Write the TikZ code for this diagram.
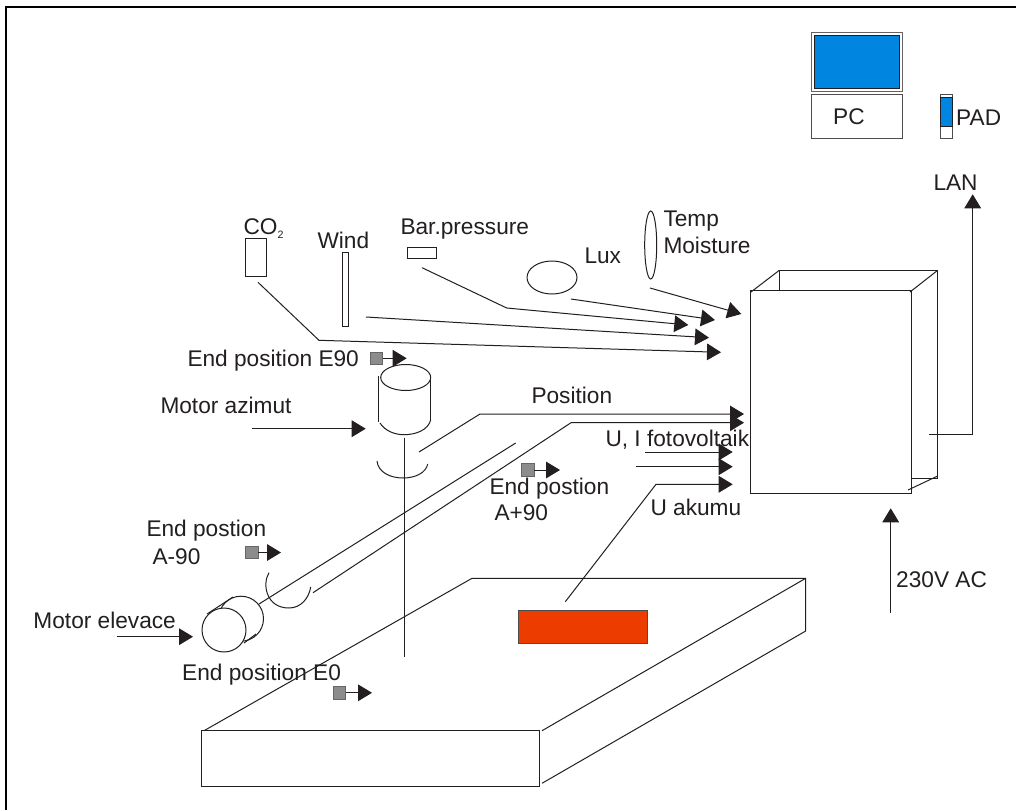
\documentclass[tikz,border=0pt]{standalone}
\usepackage{fontspec}
\setmainfont{Liberation Sans}
\usetikzlibrary{arrows.meta}
\definecolor{ink}{HTML}{231F20}
\definecolor{screen}{HTML}{0085E0}
\definecolor{panel}{HTML}{EC3C00}
\definecolor{switch}{HTML}{8C8C8C}

\begin{document}
\begin{tikzpicture}[
  x=0.75pt,y=-0.75pt,
  line width=0.75pt,
  wire/.style={draw=ink,line width=0.75pt},
  arr/.style={wire,-{Triangle[length=10.5pt,width=12.5pt]}},
  lbl/.style={font=\fontsize{17}{20}\selectfont,text=ink,anchor=base west,inner sep=0pt,align=left},
  endsw/.style={draw=black!60,fill=switch,line width=0.6pt,minimum size=9.4pt,inner sep=0pt},
  scr/.style={draw=ink,fill=screen,inner sep=0pt},
  frame/.style={draw=black,line width=1.8pt},
]
\useasboundingbox (0,0) rectangle (1016,810);
\fill[white] (0,0) rectangle (1016,810);
\draw[frame] (6,810) -- (6,7) -- (1016,7);

% PC and PAD
\node[draw=ink!70,inner sep=0pt,minimum width=68.5pt,minimum height=44pt] (monitor) at (857,62) {};
\node[scr,minimum width=64pt,minimum height=39.2pt] (monitorscr) at (857,62.1) {};
\node[draw=ink!80,inner sep=0pt,minimum width=68.5pt,minimum height=33pt] (pcbox) at (857,116.3) {};
\node[lbl] (pclbl) at (832.7,124.3) {PC};
\node[draw=ink!80,inner sep=0pt,minimum width=9.3pt,minimum height=33pt] (padbox) at (946.5,116.3) {};
\node[scr,minimum width=9.3pt,minimum height=22pt] (padscr) at (946.5,112) {};
\node[lbl] (padlbl) at (955.7,125.3) {PAD};

% sensors
\draw[wire] (245.7,238) rectangle (266.7,276);
\node[lbl] (co2lbl) at (243,234) {CO\raisebox{-3.6pt}{\fontsize{8}{8}\selectfont 2}};
\draw[wire] (342.7,252.7) rectangle (348,326);
\node[lbl] (windlbl) at (317,248) {Wind};
\draw[wire] (407,247) rectangle (436.7,258.7);
\node[lbl] (barlbl) at (400,234) {Bar.pressure};
\draw[wire] (552,277.5) ellipse [x radius=25,y radius=16.5];
\node[lbl] (luxlbl) at (584,263) {Lux};
\draw[wire] (650.7,245) ellipse [x radius=6,y radius=34];
\node[lbl] (templbl) at (663,226.7) {Temp};
\node[lbl] (moistlbl) at (663,253) {Moisture};

\coordinate (co2out) at (258,282.3);
\coordinate (co2bend) at (319,340.3);
\coordinate (co2in) at (721,352.3);
\coordinate (windout) at (366,317);
\coordinate (windin) at (709,337.7);
\coordinate (barout) at (422,267.7);
\coordinate (barbend) at (506.7,308);
\coordinate (barin) at (688.3,325);
\coordinate (luxout) at (571,299);
\coordinate (luxin) at (715,320);
\coordinate (tempout) at (650,288);
\coordinate (tempin) at (741.3,314);
\draw[arr] (co2out) -- (co2bend) -- (co2in);
\draw[arr] (windout) -- (windin);
\draw[arr] (barout) -- (barbend) -- (barin);
\draw[arr] (luxout) -- (luxin);
\draw[arr] (tempout) -- (tempin);

% azimuth motor
\draw[wire] (405.7,377.5) ellipse [x radius=25,y radius=13];
\draw[wire] (378,376) -- (378,422);
\draw[wire] (430.7,377) -- (430.7,421);
\draw[wire] (380,423) .. controls (385,431) and (395,434.7) .. (404,434.7) .. controls (416,434.7) and (428,430) .. (430.7,420);
\draw[wire] (377,461) .. controls (378,472) and (390,478) .. (403,478) .. controls (415,478) and (426,473) .. (427.7,464);
\draw[wire] (404,437.7) -- (404,656.7);
\node[lbl] (azilbl) at (160,413) {Motor azimut};
\coordinate (azifrom) at (252,428.7);
\coordinate (aziin) at (365.7,428.7);
\draw[arr] (azifrom) -- (aziin);

% end switches
\node[lbl] (e90lbl) at (187,366) {End position  E90};
\node[endsw] (swe90) at (376.5,358.3) {};
\coordinate (swe90tip) at (406.7,358.3);
\draw[arr] (swe90) -- (swe90tip);
\node[lbl] (ap90lbl) at (489,494) {End postion};
\node[lbl] (ap90lblb) at (494,520.7) {A+90};
\node[endsw] (swap90) at (527.8,470) {};
\coordinate (swap90tip) at (560,470);
\draw[arr] (swap90) -- (swap90tip);
\node[lbl] (am90lbl) at (146,536.7) {End postion};
\node[lbl] (am90lblb) at (152,564) {A-90};
\node[endsw] (swam90) at (251.8,552.5) {};
\coordinate (swam90tip) at (281,552.5);
\draw[arr] (swam90) -- (swam90tip);
\node[lbl] (e0lbl) at (181.7,680) {End position E0};
\node[endsw] (swe0) at (339.5,692.8) {};
\coordinate (swe0tip) at (372,692.8);
\draw[arr] (swe0) -- (swe0tip);

% elevation motor
\draw[wire] (241,618.7) circle (22.5);
\draw[wire] (207,614) -- (233,597);
\draw[wire] (244,643) -- (256,634);
\draw[wire,fill=white] (224,630) circle (22);
\draw[wire] (269,572.7) .. controls (262,584) and (266,608) .. (289,608) .. controls (301,608) and (309,598) .. (310.7,587);
\draw[wire] (259,604) -- (515.7,443);
\node[lbl] (elelbl) at (33,628) {Motor elevace};
\coordinate (elefrom) at (116.7,636.7);
\coordinate (elein) at (193,636.7);
\draw[arr] (elefrom) -- (elein);

% signals to the box
\node[lbl] (poslbl) at (531,403) {Position};
\coordinate (posout) at (419,452);
\coordinate (posbend) at (480,414);
\coordinate (posin) at (744,414);
\draw[arr] (posout) -- (posbend) -- (posin);
\coordinate (shaftout) at (313,592.7);
\coordinate (shaftbend) at (571,422.7);
\coordinate (shaftin) at (744,422.7);
\draw[arr] (shaftout) -- (shaftbend) -- (shaftin);
\node[lbl] (pvlbl) at (605,446) {U, I fotovoltaik};
\coordinate (pvfrom) at (645,452);
\coordinate (pvin) at (732.7,452);
\draw[arr] (pvfrom) -- (pvin);
\coordinate (pvfromb) at (636,466.7);
\coordinate (pvinb) at (732.7,466.7);
\draw[arr] (pvfromb) -- (pvinb);
\node[lbl] (akulbl) at (650,515) {U akumu};
\coordinate (akuout) at (565.3,601.7);
\coordinate (akubend) at (656,484.3);
\coordinate (akuin) at (732.7,484.3);
\draw[arr] (akuout) -- (akubend) -- (akuin);

% control box
\draw[wire] (750,290.7) rectangle (911.7,493.3);
\draw[wire] (779.3,290.7) -- (779.3,270.3) -- (937.7,270.3) -- (937.7,478.3) -- (911.7,478.3);
\draw[wire] (751,292) -- (779.3,270.3);
\draw[wire] (910,292) -- (937.7,270.3);
\draw[wire] (908,490) -- (937.7,476);
\coordinate (lanout) at (929,434.3);
\coordinate (lanbend) at (972.7,434.3);
\coordinate (lanin) at (972.7,194.3);
\draw[arr] (lanout) -- (lanbend) -- (lanin);
\node[lbl] (lanlbl) at (933,190) {LAN};
\coordinate (acfrom) at (890.7,613);
\coordinate (acin) at (890.7,508.3);
\draw[arr] (acfrom) -- (acin);
\node[lbl] (aclbl) at (895.7,587.7) {230V AC};

% base plate
\draw[wire] (201.7,730.7) rectangle (539.3,786.7);
\draw[wire] (204,730.7) -- (472,578.3) -- (805.7,578.3) -- (805.7,631) -- (542,783.3);
\draw[wire] (805.7,578.3) -- (542,730.7);
\draw[draw=ink!80,fill=panel] (518.3,610.3) rectangle (647.7,643);
\end{tikzpicture}
\end{document}
